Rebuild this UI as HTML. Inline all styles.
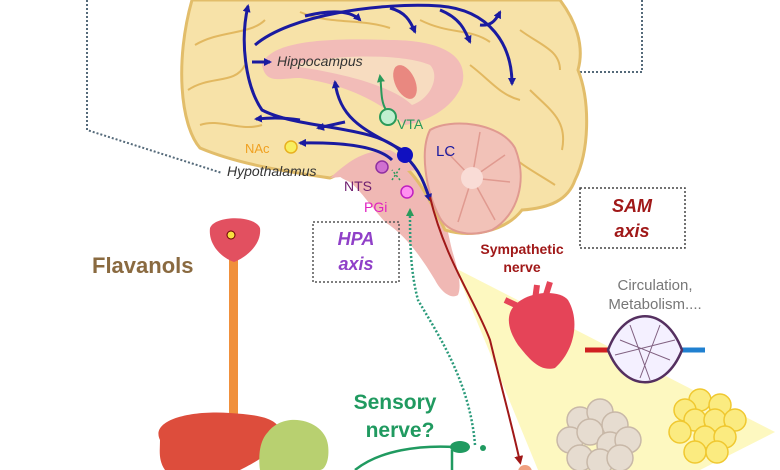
<!DOCTYPE html>
<html><head><meta charset="utf-8"><style>
html,body{margin:0;padding:0;background:#fff;}
svg{display:block;font-family:"Liberation Sans",sans-serif;}
</style></head><body>
<svg width="780" height="470" viewBox="0 0 780 470" xmlns="http://www.w3.org/2000/svg">
<defs>
<marker id="ab" markerWidth="8" markerHeight="8" refX="6" refY="4" orient="auto" markerUnits="userSpaceOnUse"><path d="M0,0 L8,4 L0,8 Z" fill="#1a1aa0"/></marker>
<marker id="ag" markerWidth="8" markerHeight="8" refX="6" refY="4" orient="auto" markerUnits="userSpaceOnUse"><path d="M0,0 L8,4 L0,8 Z" fill="#2a9a5a"/></marker>
<marker id="ar" markerWidth="9" markerHeight="9" refX="6" refY="4.5" orient="auto" markerUnits="userSpaceOnUse"><path d="M0,0 L9,4.5 L0,9 Z" fill="#a01818"/></marker>
</defs>
<!-- yellow cone -->
<polygon points="455,268 775,432 700,470 538,470" fill="#fdf8c0"/>
<!-- dotted lines -->
<path d="M87,0 L87,130 L222,173" fill="none" stroke="#556a7a" stroke-width="2" stroke-dasharray="2,2"/>
<path d="M642,0 L642,72 L360,72" fill="none" stroke="#556a7a" stroke-width="2" stroke-dasharray="2,2"/>
<!-- brainstem (behind) -->
<path d="M335,160 C360,150 400,152 420,165 C440,185 445,220 452,250 C458,270 462,285 458,295 C450,300 440,290 435,280 C420,255 405,235 385,222 C370,205 360,190 350,182 C340,178 330,172 335,160 Z" fill="#f0b8b4"/>
<!-- brain -->
<path d="M192,0 L560,0 C575,20 585,45 578,70 C590,100 590,150 575,180 C568,200 550,208 522,210 C505,232 470,238 445,230 C430,200 415,170 395,160 C370,160 350,170 330,178 C290,172 240,165 200,148 C180,125 175,60 192,0 Z" fill="#f7e2a8" stroke="#e2bd6a" stroke-width="3"/>
<g fill="none" stroke="#e2b860" stroke-width="2">
<path d="M195,45 C220,30 250,35 265,20"/><path d="M188,90 C210,75 235,85 245,65"/><path d="M520,30 C540,45 560,50 560,70"/><path d="M530,90 C550,110 568,120 562,150"/><path d="M505,150 C520,165 540,175 555,185"/><path d="M300,12 C330,25 360,18 390,28"/><path d="M420,20 C450,35 470,28 490,42"/><path d="M200,125 C220,118 240,132 262,125"/><path d="M470,65 C490,80 500,95 520,100"/>
</g>
<!-- limbic pink -->
<path d="M262,65 C270,40 330,38 390,40 C440,40 470,55 462,85 C452,110 425,122 405,125 C385,105 350,85 300,78 C280,78 266,85 262,65 Z" fill="#f2bcb8"/>
<path d="M292,66 C320,55 400,52 430,65 C440,75 432,98 412,105 C395,88 350,74 292,66 Z" fill="#f7dcc0"/>
<ellipse cx="405" cy="82" rx="10" ry="18" fill="#e98880" transform="rotate(-25 405 82)"/>
<path d="M330,178 C345,165 360,150 390,150 C400,155 410,165 418,170" fill="#f0b8b4"/>
<!-- cerebellum -->
<path d="M430,130 C450,118 500,122 515,148 C528,180 518,215 492,230 C468,238 448,232 440,218 C425,190 420,150 430,130 Z" fill="#f2c2b8" stroke="#e09a90" stroke-width="2"/>
<g stroke="#e09a90" stroke-width="1.5" fill="none"><path d="M472,178 L505,155 M472,178 L510,182 M472,178 L495,220 M472,178 L458,222 M472,178 L445,150 M472,178 L480,132"/></g>
<circle cx="472" cy="178" r="11" fill="#f9dcd6"/>
<!-- blue projections -->
<g fill="none" stroke="#1a1aa0" stroke-width="3">
<path d="M402,153 C380,125 300,130 262,110 C245,85 240,40 248,6" marker-end="url(#ab)"/>
<path d="M255,45 C290,15 380,2 440,6 C490,10 512,45 512,84" marker-end="url(#ab)"/>
<path d="M305,16 C330,10 350,10 360,20" marker-end="url(#ab)"/>
<path d="M390,8 C405,12 410,20 415,32" marker-end="url(#ab)"/>
<path d="M440,10 C460,18 465,30 470,42" marker-end="url(#ab)"/>
<path d="M480,25 C490,26 495,22 500,12" marker-end="url(#ab)"/>
<path d="M252,62 L270,62" marker-end="url(#ab)"/>
<path d="M300,120 C280,117 268,118 256,119" marker-end="url(#ab)"/>
<path d="M345,122 C335,124 328,126 318,128" marker-end="url(#ab)"/>
<path d="M402,150 C365,130 340,120 335,82" marker-end="url(#ab)"/>
<path d="M405,156 C420,170 425,185 430,200" marker-end="url(#ab)"/>
<path d="M392,160 C380,148 350,142 300,143" marker-end="url(#ab)"/>
</g>
<circle cx="405" cy="155" r="8" fill="#1010c0"/>
<!-- green -->
<path d="M386,110 C380,100 382,88 380,76" fill="none" stroke="#2a9a5a" stroke-width="2" marker-end="url(#ag)"/>
<circle cx="388" cy="117" r="8" fill="#c0f0d0" stroke="#2a9a5a" stroke-width="2"/>
<circle cx="291" cy="147" r="6" fill="#f8ee60" stroke="#e8b020" stroke-width="1.5"/>
<circle cx="382" cy="167" r="6" fill="#d070d0" stroke="#9030a0" stroke-width="1.5"/>
<circle cx="407" cy="192" r="6" fill="#ff90f0" stroke="#c020c0" stroke-width="1.5"/>
<path d="M392,180 L400,168 M400,180 L392,170" stroke="#2a9a5a" stroke-width="1.5" stroke-dasharray="2,2"/>
<path d="M475,445 C470,380 435,330 418,300 C410,270 410,240 410,210" fill="none" stroke="#2a9a7a" stroke-width="2.5" stroke-dasharray="2,2" marker-end="url(#ag)"/>
<!-- red sympathetic -->
<path d="M430,197 C445,260 475,300 490,340 C502,390 512,425 520,462" fill="none" stroke="#a01818" stroke-width="2" marker-end="url(#ar)"/>
<!-- labels brain -->
<text x="277" y="66" font-size="14" font-style="italic" fill="#333">Hippocampus</text>
<text x="397" y="129" font-size="14" fill="#2a9a5a">VTA</text>
<text x="436" y="156" font-size="15" fill="#1a1aa0">LC</text>
<text x="245" y="153" font-size="13" fill="#f0a020">NAc</text>
<text x="227" y="176" font-size="14" font-style="italic" fill="#333">Hypothalamus</text>
<text x="344" y="191" font-size="14" fill="#702070">NTS</text>
<text x="364" y="212" font-size="14" fill="#e020c0">PGi</text>
<!-- boxes -->
<rect x="313" y="222" width="86" height="60" fill="none" stroke="#555" stroke-width="1.5" stroke-dasharray="2,2"/>
<text x="356" y="245" font-size="18" font-style="italic" font-weight="bold" fill="#9040c8" text-anchor="middle">HPA</text>
<text x="356" y="270" font-size="18" font-style="italic" font-weight="bold" fill="#9040c8" text-anchor="middle">axis</text>
<rect x="580" y="188" width="105" height="60" fill="none" stroke="#444" stroke-width="1.5" stroke-dasharray="2,2"/>
<text x="632" y="212" font-size="18" font-style="italic" font-weight="bold" fill="#a01818" text-anchor="middle">SAM</text>
<text x="632" y="237" font-size="18" font-style="italic" font-weight="bold" fill="#a01818" text-anchor="middle">axis</text>
<text x="522" y="254" font-size="14" font-weight="bold" fill="#a01818" text-anchor="middle">Sympathetic</text>
<text x="522" y="272" font-size="14" font-weight="bold" fill="#a01818" text-anchor="middle">nerve</text>
<text x="655" y="290" font-size="15" fill="#777" text-anchor="middle">Circulation,</text>
<text x="655" y="309" font-size="15" fill="#777" text-anchor="middle">Metabolism....</text>
<!-- flavanols -->
<text x="92" y="273" font-size="22" font-weight="bold" fill="#8a6a40">Flavanols</text>
<rect x="229" y="250" width="9" height="220" fill="#f0903c"/>
<path d="M210,228 C215,215 255,215 260,228 C262,245 245,258 234,262 C222,258 208,245 210,228 Z" fill="#e25060"/>
<circle cx="231" cy="235" r="4" fill="#f8e040" stroke="#600" stroke-width="1"/>
<path d="M160,440 C150,420 190,410 230,413 C260,415 285,418 280,440 C270,455 250,465 240,470 L165,470 C158,460 160,450 160,440 Z" fill="#dd4d3c"/>
<path d="M268,432 C285,410 325,420 328,445 C330,460 325,470 320,470 L260,470 C258,455 260,440 268,432 Z" fill="#b8d070"/>
<!-- sensory -->
<text x="395" y="409" font-size="21" font-weight="bold" fill="#209a60" text-anchor="middle">Sensory</text>
<text x="400" y="437" font-size="21" font-weight="bold" fill="#209a60" text-anchor="middle">nerve?</text>
<path d="M355,470 C380,450 420,445 455,447 M452,450 L452,470" fill="none" stroke="#209a60" stroke-width="2.5"/>
<ellipse cx="460" cy="447" rx="10" ry="6" fill="#209a60"/>
<circle cx="483" cy="448" r="3" fill="#209a60"/>
<!-- heart -->
<path d="M515,305 C530,290 560,290 568,300 C580,320 575,350 555,368 C540,372 530,360 518,345 C508,330 505,315 515,305 Z" fill="#e54458"/>
<path d="M535,300 L537,285 M545,298 L550,282 M522,308 L505,300" stroke="#e54458" stroke-width="6"/>
<!-- vessel -->
<path d="M585,350 L610,350" stroke="#d02020" stroke-width="5"/>
<path d="M680,350 L705,350" stroke="#2080d0" stroke-width="5"/>
<path d="M608,350 C625,305 665,305 682,350 C665,393 625,393 608,350 Z" fill="#f4f0ff" stroke="#553060" stroke-width="2.5"/>
<path d="M620,340 L670,360 M630,325 L650,380 M660,325 L640,378 M615,355 L675,340" stroke="#806080" stroke-width="1"/>
<!-- cells -->
<g fill="#e6dcd0" stroke="#c8b8a8" stroke-width="1.5">
<circle cx="580" cy="420" r="13"/><circle cx="600" cy="412" r="13"/><circle cx="615" cy="425" r="13"/><circle cx="570" cy="440" r="13"/><circle cx="590" cy="432" r="13"/><circle cx="610" cy="445" r="13"/><circle cx="628" cy="440" r="13"/><circle cx="580" cy="458" r="13"/><circle cx="600" cy="462" r="13"/><circle cx="620" cy="458" r="13"/>
</g>
<g fill="#fbeb80" stroke="#f0c830" stroke-width="1.5">
<circle cx="700" cy="400" r="11"/><circle cx="685" cy="410" r="11"/><circle cx="720" cy="405" r="11"/><circle cx="695" cy="420" r="11"/><circle cx="715" cy="420" r="11"/><circle cx="735" cy="420" r="11"/><circle cx="680" cy="432" r="11"/><circle cx="705" cy="437" r="11"/><circle cx="725" cy="437" r="11"/><circle cx="695" cy="452" r="11"/><circle cx="717" cy="452" r="11"/>
</g>
<circle cx="525" cy="472" r="7" fill="#f0a080"/>
</svg>
</body></html>
